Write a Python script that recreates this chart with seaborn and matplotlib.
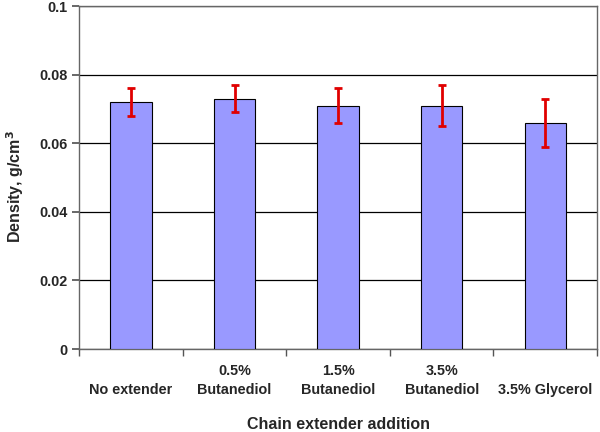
import numpy as np
import pandas as pd
import seaborn as sns
import matplotlib.pyplot as plt
from matplotlib.ticker import FixedLocator

# data
categories = ["No extender", "0.5%\nButanediol", "1.5%\nButanediol",
              "3.5%\nButanediol", "3.5% Glycerol"]
density = [0.072, 0.073, 0.071, 0.071, 0.066]
errors = [0.004, 0.004, 0.005, 0.006, 0.007]

df = pd.DataFrame({"cat": categories, "density": density})

sns.set_theme(style="white")
plt.rcParams["font.family"] = ["Liberation Sans", "DejaVu Sans"]
plt.rcParams["font.weight"] = "bold"

fig = plt.figure(figsize=(6, 4.32), dpi=100)
ax = fig.add_axes([0.132, 0.192, 0.863, 0.794])

ax = sns.barplot(data=df, x="cat", y="density", color="#9999FF",
                 edgecolor="black", linewidth=0.8, width=0.4,
                 saturation=1, errorbar=None, ax=ax, zorder=3)

ax.errorbar(np.arange(len(categories)), density, yerr=errors, fmt="none",
            ecolor="#E00000", elinewidth=2, capsize=3, capthick=2, zorder=4)

ax.set_ylim(0, 0.1)
ax.set_xlim(-0.5, len(categories) - 0.5)
ax.set_yticks([0, 0.02, 0.04, 0.06, 0.08, 0.1])
ax.set_yticklabels(["0", "0.02", "0.04", "0.06", "0.08", "0.1"])
ax.yaxis.grid(True, color="black", linewidth=0.9, zorder=0)
ax.set_axisbelow(True)

# single-line labels sit on the lower line, like the two-line ones
ax.set_xticks(np.arange(len(categories)))
ax.set_xticklabels([c if "\n" in c else "\n" + c for c in categories],
                   linespacing=1.45)

# x tick marks sit between the categories
ax.tick_params(axis="x", which="major", length=0, pad=11)
ax.xaxis.set_minor_locator(FixedLocator(np.arange(-0.5, len(categories), 1)))
ax.tick_params(axis="x", which="minor", length=5, color="#555555", direction="out",
               bottom=True)
ax.tick_params(axis="y", length=5, color="#555555", direction="out", left=True)

for s in ax.spines.values():
    s.set_color("#666666")
    s.set_linewidth(1.0)

for lbl in ax.get_xticklabels() + ax.get_yticklabels():
    lbl.set_fontsize(10.4)
    lbl.set_fontweight("bold")

ax.set_xlabel("Chain extender addition", fontsize=11.5, fontweight="bold")
ax.xaxis.label.set_verticalalignment("center")
ax.xaxis.set_label_coords(0.5, (349 - 424) / 343)
ax.set_ylabel("Density, g/cm$^{\\mathbf{3}}$", fontsize=11.5, fontweight="bold")
ax.yaxis.set_label_coords(-0.102, (349 - 186) / 343)

fig.savefig("out.png", dpi=100)
